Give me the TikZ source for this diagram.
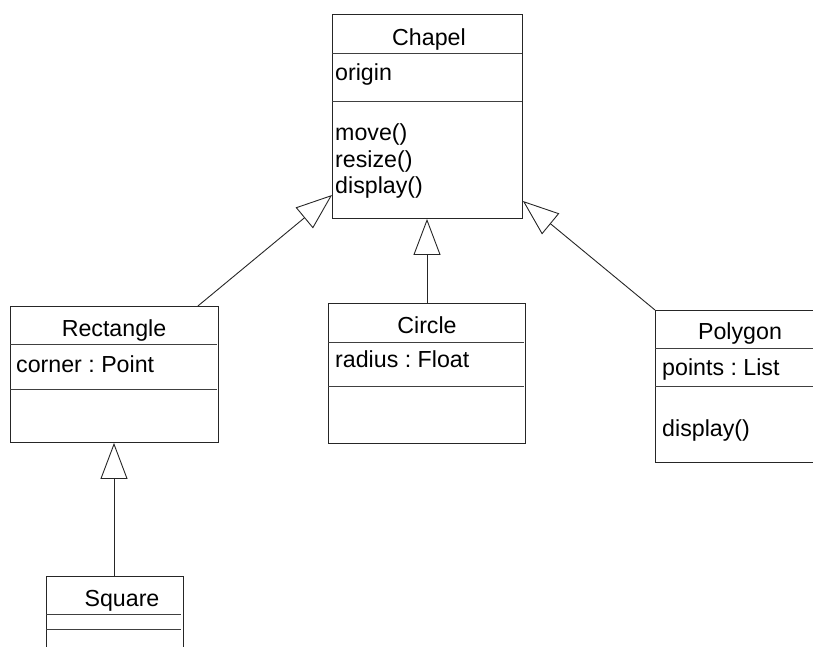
\documentclass[tikz,border=0pt]{standalone}
\usepackage{fontspec}
\setmainfont{Liberation Sans}
\usetikzlibrary{arrows.meta,calc}

\tikzset{
  classbox/.style={draw=black!85, line width=0.9pt, anchor=north west, inner sep=0pt},
  divider/.style={draw=black!75, line width=0.8pt},
  umltext/.style={inner sep=0pt, font=\fontsize{23.2}{27}\selectfont},
  classname/.style={umltext, anchor=base},
  member/.style={umltext, anchor=base west},
  inherits/.style={draw=black!85, line width=0.9pt,
    -{Triangle[open, length=36pt, width=27pt, line width=0.9pt]}},
}

\begin{document}
\frenchspacing
\begin{tikzpicture}[x=1pt, y=-1pt]
  \useasboundingbox (0,0) rectangle (813,646);
  \clip (0,0) rectangle (813,646);

  % class boxes
  \node (chapel)  [classbox, minimum width=190pt, minimum height=204pt] at (332,14)  {};
  \node (rect)    [classbox, minimum width=208pt, minimum height=136pt] at (10,306)  {};
  \node (circle)  [classbox, minimum width=197pt, minimum height=140pt] at (328,303) {};
  \node (polygon) [classbox, minimum width=170pt, minimum height=152pt] at (655,310) {};
  \node (square)  [classbox, minimum width=137pt, minimum height=90pt]  at (46,576)  {};

  % compartment separators
  \draw[divider] (332,53)  -- (522,53);
  \draw[divider] (332,101) -- (522,101);
  \draw[divider] (10,344)  -- (217,344);
  \draw[divider] (10,389)  -- (217,389);
  \draw[divider] (328,342) -- (524,342);
  \draw[divider] (328,386) -- (524,386);
  \draw[divider] (655,348) -- (825,348);
  \draw[divider] (655,386) -- (825,386);
  \draw[divider] (46,614)  -- (181,614);
  \draw[divider] (46,629)  -- (181,629);

  % Chapel
  \node (chapelname) [classname] at (429,45) {Chapel};
  \node (origin)  [member] at (335,80)  {origin};
  \node (move)    [member] at (335,140) {move()};
  \node (resize)  [member] at (335,167) {resize()};
  \node (display) [member] at (335,193) {display()};

  % Rectangle
  \node (rectname) [classname] at (114,336) {Rectangle};
  \node (corner)   [member] at (16,372) {corner : Point};

  % Circle
  \node (circlename) [classname] at (427,333) {Circle};
  \node (radius)     [member] at (335,367) {radius : Float};

  % Polygon
  \node (polyname) [classname] at (740,339) {Polygon};
  \node (points)   [member] at (662,375) {points : List};
  \node (polydisp) [member] at (662,436) {display()};

  % Square
  \node (squarename) [classname] at (122,606) {Square};

  % generalisation arrows
  \draw[inherits] ($(rect.north east)+(-21,0)$) -- ($(chapel.north west)+(0,181)$);
  \draw[inherits] (circle.north -| 427,0) -- (chapel.south -| 427,0);
  \draw[inherits] (polygon.north west) -- ($(chapel.north east)+(0,187)$);
  \draw[inherits] (square.north -| 114,0) -- (rect.south -| 114,0);
\end{tikzpicture}
\end{document}
